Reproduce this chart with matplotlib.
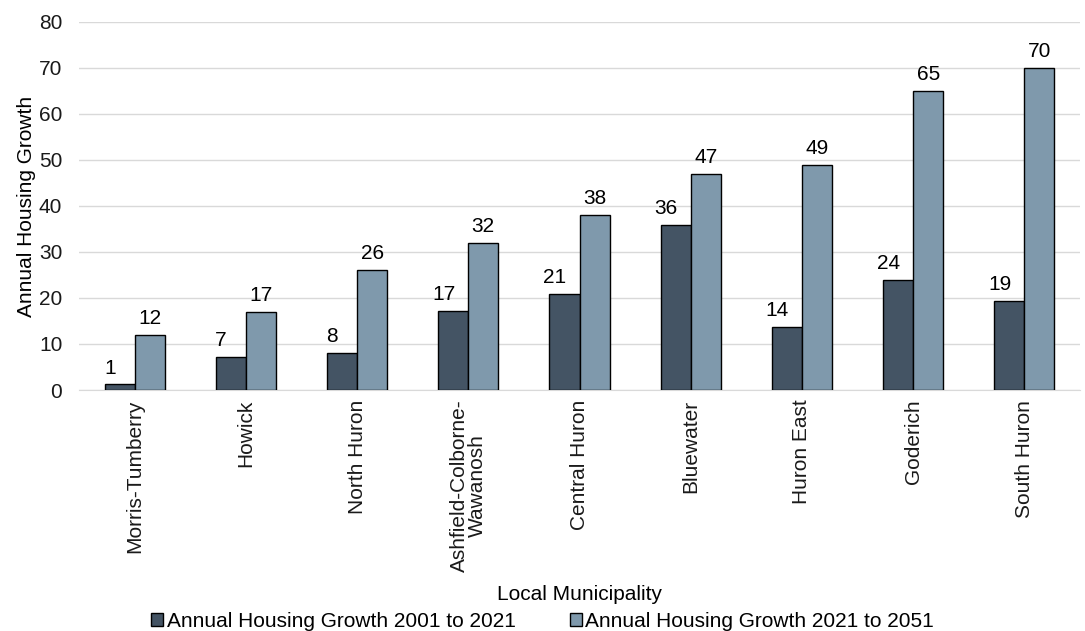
import matplotlib
matplotlib.use("Agg")
import matplotlib.pyplot as plt
import numpy as np
from matplotlib.patches import Patch

plt.rcParams['font.family'] = ['Liberation Sans', 'DejaVu Sans']

categories = ["Morris-Tumberry", "Howick", "North Huron", "Ashfield-Colborne-\nWawanosh",
              "Central Huron", "Bluewater", "Huron East", "Goderich", "South Huron"]
growth_2001_2021 = [1.2, 7.1, 8.0, 17.1, 20.8, 35.8, 13.7, 23.9, 19.3]
growth_2021_2051 = [12, 17, 26, 32, 38, 47, 49, 65, 70]
series_names = ["Annual Housing Growth 2001 to 2021", "Annual Housing Growth 2021 to 2051"]
yticks = [0, 10, 20, 30, 40, 50, 60, 70, 80]

dark = '#445464'
light = '#7f99ac'
FS = 15

fig = plt.figure(figsize=(10.85, 6.31), dpi=100)
ax = fig.add_axes([79/1085, 1-390/631, 1001/1085, 368/631])

x = np.arange(len(categories))
w = 0.27
b1 = ax.bar(x - w/2, growth_2001_2021, w, color=dark, edgecolor='black', linewidth=1, zorder=3)
b2 = ax.bar(x + w/2, growth_2021_2051, w, color=light, edgecolor='black', linewidth=1, zorder=3)

for rect, v in zip(b1, growth_2001_2021):
    ax.annotate(f"{v:.0f}", (rect.get_x() + rect.get_width()/2, rect.get_height()),
                xytext=(-7, 5), textcoords='offset points', ha='center', va='bottom', fontsize=FS)
for rect, v in zip(b2, growth_2021_2051):
    ax.annotate(f"{v:.0f}", (rect.get_x() + rect.get_width()/2, rect.get_height()),
                xytext=(0, 5), textcoords='offset points', ha='center', va='bottom', fontsize=FS)

ax.set_xlim(-0.5, len(categories) - 0.5)
ax.set_ylim(0, 80)
ax.set_yticks(yticks)
ax.yaxis.grid(True, color='#d9d9d9', linewidth=1, zorder=0)
ax.set_axisbelow(True)
for s in ['top', 'right', 'left']:
    ax.spines[s].set_visible(False)
ax.spines['bottom'].set_color('#d9d9d9')
ax.tick_params(axis='both', length=0, labelsize=FS, colors='#1a1a1a')
ax.tick_params(axis='y', pad=12)
ax.set_xticks(x)
ax.set_xticklabels(categories, rotation=90, fontsize=FS, linespacing=0.95)
ax.tick_params(axis='x', pad=7)
ax.set_ylabel("Annual Housing Growth", fontsize=FS, labelpad=2)
ax.set_xlabel("Local Municipality", fontsize=FS, labelpad=9)

handles = [Patch(facecolor=dark, edgecolor='black'), Patch(facecolor=light, edgecolor='black')]
fig.legend(handles, series_names, loc='lower center', bbox_to_anchor=(0.5, -0.03), ncol=2,
           frameon=False, fontsize=FS, handlelength=0.6, handleheight=0.6, handletextpad=0.15,
           columnspacing=2.6)

fig.savefig("out.png", dpi=100)
